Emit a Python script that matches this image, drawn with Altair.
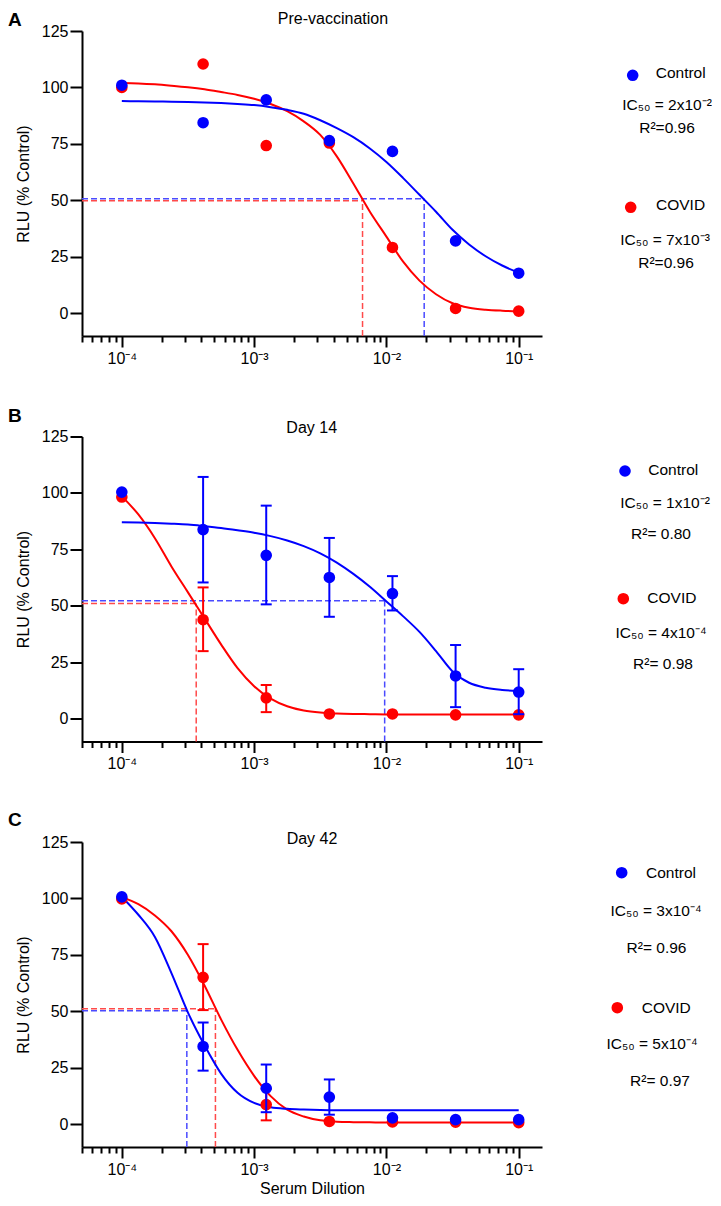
import altair as alt
import pandas as pd

FONT = "Liberation Sans"
BLUE = "#0000ff"
RED = "#ff0000"
BLUE_D = "#4a4aff"
RED_D = "#ff4a4a"

# ---------------- data ----------------
dilution = [1e-4, 1 / 2430, 1 / 810, 1 / 270, 1 / 90, 1 / 30, 1 / 10]

# Panel A  (Pre-vaccination)
a_ctrl = [101.0, 84.4, 94.5, 76.5, 71.7, 32.1, 17.8]
a_covid = [100.0, 110.4, 74.3, 75.4, 29.2, 2.2, 1.0]

# Panel B  (Day 14)
b_ctrl = [100.4, 83.8, 72.4, 62.6, 55.5, 19.0, 11.9]
b_ctrl_lo = [None, 60.4, 50.7, 45.2, 48.0, 5.2, 2.1]
b_ctrl_hi = [None, 107.1, 94.4, 80.1, 63.2, 32.7, 22.0]
b_covid = [98.2, 43.9, 9.3, 2.2, 2.2, 1.8, 1.8]
b_covid_lo = [None, 30.0, 3.0, None, None, None, None]
b_covid_hi = [None, 58.2, 15.0, None, None, None, None]

# Panel C  (Day 42)
c_ctrl = [100.7, 34.5, 16.0, 12.1, 2.9, 2.1, 2.1]
c_ctrl_lo = [None, 23.8, 5.4, 4.3, None, None, None]
c_ctrl_hi = [None, 45.1, 26.5, 19.9, None, None, None]
c_covid = [99.8, 65.1, 8.8, 1.3, 1.1, 1.0, 0.8]
c_covid_lo = [None, 50.6, 1.8, None, None, None, None]
c_covid_hi = [None, 79.8, 15.8, None, None, None, None]

# fitted curves (log10 dilution -> % control)
fit_log = [-4, -3.875, -3.75, -3.625, -3.5, -3.375, -3.25, -3.125, -3, -2.875,
           -2.75, -2.625, -2.5, -2.375, -2.25, -2.125, -2, -1.875, -1.75,
           -1.625, -1.5, -1.375, -1.25, -1.125, -1]
a_fit_ctrl = [94.0, 93.9, 93.8, 93.7, 93.6, 93.4, 93.1, 92.7, 92.2, 91.3,
              90.1, 88.4, 85.5, 82.0, 78.0, 73.0, 67.0, 60.0, 52.5,
              45.0, 37.0, 30.5, 25.3, 21.2, 18.0]
a_fit_covid = [102.0, 101.8, 101.4, 100.8, 100.1, 99.2, 98.0, 96.7, 95.0, 92.7,
               89.5, 85.0, 79.0, 69.5, 57.5, 45.0, 34.0, 23.0, 14.5,
               8.5, 4.5, 2.5, 1.6, 1.2, 1.0]
b_fit_ctrl = [87.0, 86.9, 86.7, 86.4, 86.0, 85.3, 84.5, 83.5, 82.4, 80.9,
              79.0, 76.5, 73.3, 69.2, 64.2, 58.5, 52.0, 45.5, 38.5,
              30.0, 21.0, 16.0, 13.8, 12.8, 12.3]
b_fit_covid = [98.5, 90.5, 80.0, 67.5, 56.0, 44.5, 33.0, 22.5, 14.5, 9.0,
               5.6, 3.7, 2.8, 2.4, 2.2, 2.1, 2.0, 2.0, 2.0,
               2.0, 2.0, 2.0, 2.0, 2.0, 2.0]
c_fit_ctrl = [100.7, 92.8, 83.0, 67.0, 49.5, 35.0, 22.5, 14.0, 9.5, 7.6,
              6.9, 6.6, 6.4, 6.3, 6.3, 6.3, 6.3, 6.3, 6.3,
              6.3, 6.3, 6.3, 6.3, 6.3, 6.3]
c_fit_covid = [100.5, 97.5, 92.5, 85.5, 75.0, 61.5, 46.5, 33.0, 21.5, 12.5,
               6.5, 3.5, 1.8, 1.2, 1.0, 0.9, 0.8, 0.8, 0.8,
               0.8, 0.8, 0.8, 0.8, 0.8, 0.8]

# IC50 guide lines: (dilution, % control)
a_ic_ctrl, a_ic_covid = (0.0193, 50.8), (0.0066, 49.9)
b_ic_ctrl, b_ic_covid = (0.0097, 52.3), (3.65e-4, 51.1)
c_ic_ctrl, c_ic_covid = (3.1e-4, 50.3), (5.1e-4, 51.2)

titles = ["Pre-vaccination", "Day 14", "Day 42"]
letters = ["A", "B", "C"]
legend_texts = [
    ["Control", "IC₅₀ = 2x10⁻²", "R²=0.96", "COVID", "IC₅₀ = 7x10⁻³", "R²=0.96"],
    ["Control", "IC₅₀ = 1x10⁻²", "R²= 0.80", "COVID", "IC₅₀ = 4x10⁻⁴", "R²= 0.98"],
    ["Control", "IC₅₀ = 3x10⁻⁴", "R²= 0.96", "COVID", "IC₅₀ = 5x10⁻⁴", "R²= 0.97"],
]
ytick_values = [0, 25, 50, 75, 100, 125]
xtick_values = [1e-4, 1e-3, 1e-2, 1e-1]
xtick_labels = ["10⁻⁴", "10⁻³", "10⁻²", "10⁻¹"]
minor_ticks = [m * 10.0 ** e for e in (-5, -4, -3, -2) for m in range(2, 10)
               if 5e-5 <= m * 10.0 ** e < 0.1]

XMIN, XMAX = 5e-5, 0.15
YMIN, YMAX = -10, 125

# ---------------- layout (pixels, relative to each plot area) ----------------
W, H = 460, 305
PT = 135
layout = [
    dict(title=(251, -20, "top"), letter=(-74, -20, "top"),
         dots=[(550.7, 44.3), (548.7, 176.3)],
         label=[(573.7, 42), (574, 173.7)],
         lines=[(585, 73.7), (585, 97), (583, 208.7), (584, 232)]),
    dict(title=(229.7, -8.5, "middle"), letter=(-74, -21, "middle"),
         dots=[(543, 34.5), (541.3, 162.2)],
         label=[(566.3, 33.8), (565.3, 161.5)],
         lines=[(583, 66.5), (579, 97.2), (579, 196.2), (581, 227.2)]),
    dict(title=(230, -3, "middle"), letter=(-74, -22, "middle"),
         dots=[(539.7, 30.7), (535.3, 165.7)],
         label=[(564, 30.7), (559.7, 165.7)],
         lines=[(574, 69), (574.5, 105.7), (570, 202.3), (578, 239)]),
]

xscale = alt.Scale(type="log", domain=[XMIN, XMAX], nice=False)
yscale = alt.Scale(domain=[YMIN, YMAX], nice=False, zero=False)

label_expr = " : ".join(
    f"datum.value < {v * 3} ? '{lab}'" for v, lab in zip(xtick_values[:-1], xtick_labels[:-1])
) + f" : '{xtick_labels[-1]}'"

yaxis = alt.Axis(values=ytick_values, tickSize=12, tickWidth=2, domainWidth=2,
                 domainColor="black", tickColor="black", labelColor="black",
                 labelFontSize=16, labelFont=FONT, labelPadding=2, grid=False,
                 title="RLU (% Control)", titleFontSize=16, titleFont=FONT,
                 titleFontWeight="normal", titleColor="black", titlePadding=10)


def major_axis(xtitle):
    kw = dict(values=xtick_values, labelExpr=label_expr, tickSize=11, tickWidth=2,
              domainWidth=2, domainColor="black", tickColor="black",
              labelColor="black", labelFontSize=16, labelFont=FONT, labelPadding=3,
              grid=False, orient="bottom", labelOverlap=False, labelFlush=False,
              titleFontSize=16, titleFont=FONT, titleFontWeight="normal",
              titleColor="black", titlePadding=3)
    kw["title"] = xtitle if xtitle else None
    return alt.Axis(**kw)


minor_axis = alt.Axis(values=minor_ticks, tickSize=6, tickWidth=2, tickColor="black",
                      labels=False, domain=False, grid=False, orient="bottom", title=None)


def X(field, axis=None):
    return alt.X(field, type="quantitative", scale=xscale, axis=axis)


def Y(field):
    return alt.Y(field, type="quantitative", scale=yscale, axis=yaxis)


def text_layer(t, x, y, align="center", baseline="middle", size=15.5, weight="normal"):
    return alt.Chart(pd.DataFrame({"t": [t]})).mark_text(
        align=align, baseline=baseline, font=FONT, fontSize=size,
        fontWeight=weight, color="black"
    ).encode(text="t:N", x=alt.value(x), y=alt.value(y))


def panel(i, ctrl, covid, fit_ctrl, fit_covid, ic_ctrl, ic_covid,
          ctrl_err=None, covid_err=None, xtitle=None):
    L = layout[i]
    fx = [10.0 ** u for u in fit_log]
    layers = []
    # IC50 dashed guides
    for (icx, icy), col in ((ic_covid, RED_D), (ic_ctrl, BLUE_D)):
        h = pd.DataFrame({"x": [XMIN], "x2": [icx], "y": [icy]})
        v = pd.DataFrame({"x": [icx], "y": [YMIN], "y2": [icy]})
        layers.append(alt.Chart(h).mark_rule(color=col, strokeWidth=1.5, strokeDash=[6, 3])
                      .encode(x=X("x"), x2="x2:Q", y=Y("y")))
        layers.append(alt.Chart(v).mark_rule(color=col, strokeWidth=1.5, strokeDash=[6, 3])
                      .encode(x=X("x"), y=Y("y"), y2="y2:Q"))
    # fitted curves
    for vals, col in ((fit_covid, RED), (fit_ctrl, BLUE)):
        d = pd.DataFrame({"x": fx, "y": vals})
        layers.append(alt.Chart(d).mark_line(color=col, strokeWidth=2, interpolate="monotone")
                      .encode(x=X("x"), y=Y("y")))
    # points and error bars
    for k, (vals, err, col) in enumerate(((covid, covid_err, RED), (ctrl, ctrl_err, BLUE))):
        if err is not None:
            e = pd.DataFrame({"x": dilution, "lo": err[0], "hi": err[1]}).dropna()
            layers.append(alt.Chart(e).mark_rule(color=col, strokeWidth=2)
                          .encode(x=X("x"), y=Y("lo"), y2="hi:Q"))
            for f in ("lo", "hi"):
                layers.append(alt.Chart(e).mark_tick(color=col, orient="horizontal",
                                                     size=11, thickness=2, opacity=1)
                              .encode(x=X("x"), y=Y(f)))
        d = pd.DataFrame({"x": dilution, "y": vals})
        ax = minor_axis if k == 0 else major_axis(xtitle)
        layers.append(alt.Chart(d).mark_circle(color=col, size=PT, opacity=1)
                      .encode(x=X("x", ax), y=Y("y")))
    # title and panel letter
    tx, ty, tb = L["title"]
    layers.append(text_layer(titles[i], tx, ty, baseline=tb, size=16))
    lx, ly, lb = L["letter"]
    layers.append(text_layer(letters[i], lx, ly, align="left", baseline=lb, size=19, weight="bold"))
    # legend
    texts = legend_texts[i]
    for (dx, dy), col in zip(L["dots"], (BLUE, RED)):
        layers.append(alt.Chart(pd.DataFrame({"a": [0]})).mark_circle(color=col, size=PT, opacity=1)
                      .encode(x=alt.value(dx), y=alt.value(dy)))
    for (px, py), t in zip(L["label"], (texts[0], texts[3])):
        layers.append(text_layer(t, px, py, align="left"))
    for (px, py), t in zip(L["lines"], (texts[1], texts[2], texts[4], texts[5])):
        layers.append(text_layer(t, px, py))
    return alt.layer(*layers).properties(width=W, height=H).resolve_axis(x="independent")


pA = panel(0, a_ctrl, a_covid, a_fit_ctrl, a_fit_covid, a_ic_ctrl, a_ic_covid)
pB = panel(1, b_ctrl, b_covid, b_fit_ctrl, b_fit_covid, b_ic_ctrl, b_ic_covid,
           ctrl_err=(b_ctrl_lo, b_ctrl_hi), covid_err=(b_covid_lo, b_covid_hi))
pC = panel(2, c_ctrl, c_covid, c_fit_ctrl, c_fit_covid, c_ic_ctrl, c_ic_covid,
           ctrl_err=(c_ctrl_lo, c_ctrl_hi), covid_err=(c_covid_lo, c_covid_hi),
           xtitle="Serum Dilution")

chart = alt.vconcat(pA, pB, pC, spacing=100.5, bounds="flush").properties(
    padding={"left": 0, "top": 3, "right": 0, "bottom": 0}, background="white"
).configure(font=FONT).configure_view(stroke=None, strokeWidth=0)

chart.save("out.html", embed_options={"renderer": "svg", "actions": False})
